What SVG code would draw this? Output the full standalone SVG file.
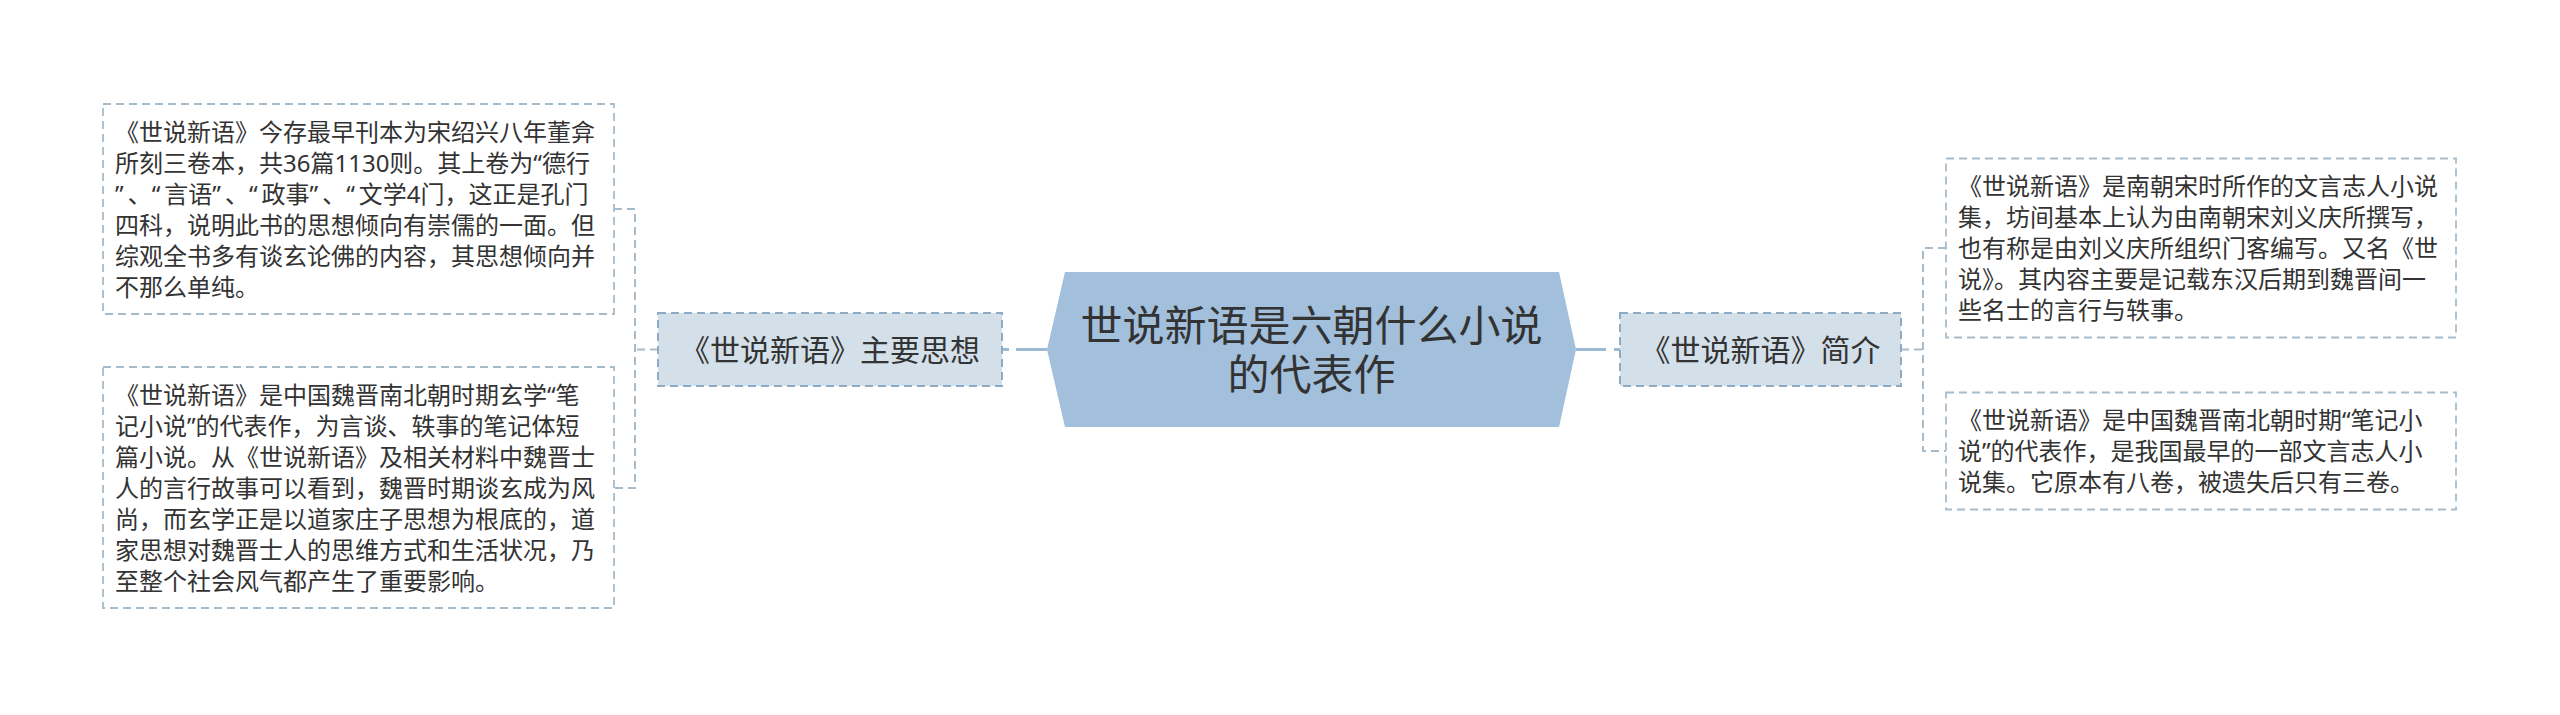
<svg xmlns="http://www.w3.org/2000/svg" width="2560" height="715" viewBox="0 0 2560 715">
<style>
.bg{fill:#ffffff}
.main{fill:#a2bfdc}
.mainText{font-family:"Noto Sans","Noto Sans CJK SC",sans-serif;font-size:42px;fill:#333333;text-anchor:middle}
.sub{fill:#d3e0ea;stroke:#8eabc6;stroke-width:2;stroke-dasharray:8 5}
.subText{font-family:"Noto Sans","Noto Sans CJK SC",sans-serif;font-size:30px;fill:#333333;text-anchor:middle}
.leaf{fill:#ffffff;stroke:#a7bccb;stroke-width:1.8;stroke-dasharray:8 5}
.leafText{font-family:"Noto Sans","Noto Sans CJK SC",sans-serif;font-size:24px;fill:#333333}
.q{letter-spacing:4px}
.conn{fill:none;stroke:#9dbad5;stroke-width:3}
.branch{fill:none;stroke:#a7bccb;stroke-width:2;stroke-dasharray:8 5}
</style>
<rect class="bg" x="0" y="0" width="2560" height="715"/>
<g id="connectors">
  <path class="conn" d="M1047,349.5 H1016 M1009,349.5 H1002"/>
  <path class="conn" d="M1576,349.5 H1606 M1614,349.5 H1620"/>
  <path class="branch" d="M658,349.5 H635"/>
  <path class="branch" d="M614,209 H635 V488 H614"/>
  <path class="branch" d="M1901,349.5 H1923"/>
  <path class="branch" d="M1946,248 H1923 V451 H1946"/>
</g>
<g id="center">
  <polygon class="main" points="1047,349.5 1065,272 1559,272 1576,349.5 1559,427 1065,427"/>
  <text class="mainText" x="1311.5" y="341">世说新语是六朝什么小说</text>
  <text class="mainText" x="1311.5" y="390">的代表作</text>
</g>
<g id="node-thought">
  <rect class="sub" x="658" y="313" width="344" height="73"/>
  <text class="subText" x="830" y="361">《世说新语》主要思想</text>
</g>
<g id="node-intro">
  <rect class="sub" x="1620" y="313" width="281" height="73"/>
  <text class="subText" x="1760.5" y="361">《世说新语》简介</text>
</g>
<g id="leaf-thought-1">
  <rect class="leaf" x="103" y="104" width="511" height="210"/>
  <text class="leafText">
    <tspan x="115" y="140.5">《世说新语》今存最早刊本为宋绍兴八年董弇</tspan>
    <tspan x="115" y="171.5">所刻三卷本，共36篇1130则。其上卷为“德行</tspan>
    <tspan x="115" y="202.5"><tspan class="q">”</tspan>、<tspan class="q">“</tspan>言语<tspan class="q">”</tspan>、<tspan class="q">“</tspan>政事<tspan class="q">”</tspan>、<tspan class="q">“</tspan>文学4门，这正是孔门</tspan>
    <tspan x="115" y="233.5">四科，说明此书的思想倾向有崇儒的一面。但</tspan>
    <tspan x="115" y="264.5">综观全书多有谈玄论佛的内容，其思想倾向并</tspan>
    <tspan x="115" y="295.5">不那么单纯。</tspan>
  </text>
</g>
<g id="leaf-thought-2">
  <rect class="leaf" x="103" y="367" width="511" height="241"/>
  <text class="leafText">
    <tspan x="115" y="403.5">《世说新语》是中国魏晋南北朝时期玄学“笔</tspan>
    <tspan x="115" y="434.5">记小说”的代表作，为言谈、轶事的笔记体短</tspan>
    <tspan x="115" y="465.5">篇小说。从《世说新语》及相关材料中魏晋士</tspan>
    <tspan x="115" y="496.5">人的言行故事可以看到，魏晋时期谈玄成为风</tspan>
    <tspan x="115" y="527.5">尚，而玄学正是以道家庄子思想为根底的，道</tspan>
    <tspan x="115" y="558.5">家思想对魏晋士人的思维方式和生活状况，乃</tspan>
    <tspan x="115" y="589.5">至整个社会风气都产生了重要影响。</tspan>
  </text>
</g>
<g id="leaf-intro-1">
  <rect class="leaf" x="1946" y="158.5" width="510" height="179"/>
  <text class="leafText">
    <tspan x="1958" y="195">《世说新语》是南朝宋时所作的文言志人小说</tspan>
    <tspan x="1958" y="226">集，坊间基本上认为由南朝宋刘义庆所撰写，</tspan>
    <tspan x="1958" y="257">也有称是由刘义庆所组织门客编写。又名《世</tspan>
    <tspan x="1958" y="288">说》。其内容主要是记载东汉后期到魏晋间一</tspan>
    <tspan x="1958" y="319">些名士的言行与轶事。</tspan>
  </text>
</g>
<g id="leaf-intro-2">
  <rect class="leaf" x="1946" y="392.5" width="510" height="117"/>
  <text class="leafText">
    <tspan x="1958" y="429">《世说新语》是中国魏晋南北朝时期“笔记小</tspan>
    <tspan x="1958" y="460">说”的代表作，是我国最早的一部文言志人小</tspan>
    <tspan x="1958" y="491">说集。它原本有八卷，被遗失后只有三卷。</tspan>
  </text>
</g>
</svg>
